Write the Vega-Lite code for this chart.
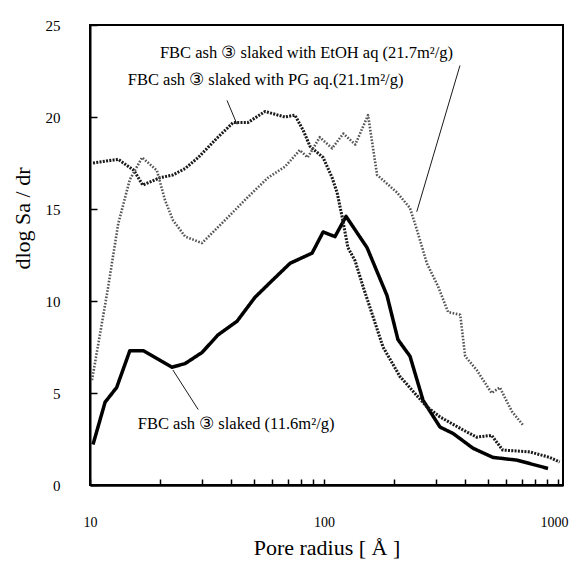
{
  "$schema": "https://vega.github.io/schema/vega-lite/v6.json",
  "width": 473,
  "height": 460,
  "autosize": {"type": "none"},
  "padding": {"left": 90, "top": 25, "right": 8, "bottom": 85},
  "background": "white",
  "config": {
    "font": "Liberation Serif",
    "view": {"stroke": "black", "strokeWidth": 2},
    "axis": {"grid": false, "ticks": true, "labelColor": "black", "titleColor": "black", "labelFont": "Liberation Serif", "titleFont": "Liberation Serif", "titleFontWeight": "normal"}
  },
  "datasets": {
    "curves": [
      {"series": "slaked", "r": 10.3, "v": 2.2},
      {"series": "slaked", "r": 11.6, "v": 4.5},
      {"series": "slaked", "r": 13.0, "v": 5.3},
      {"series": "slaked", "r": 14.8, "v": 7.3},
      {"series": "slaked", "r": 16.9, "v": 7.3},
      {"series": "slaked", "r": 22.4, "v": 6.4},
      {"series": "slaked", "r": 25.5, "v": 6.6},
      {"series": "slaked", "r": 30.1, "v": 7.2},
      {"series": "slaked", "r": 35.2, "v": 8.15},
      {"series": "slaked", "r": 42.5, "v": 8.9},
      {"series": "slaked", "r": 50.7, "v": 10.2},
      {"series": "slaked", "r": 58.8, "v": 11.0},
      {"series": "slaked", "r": 71.6, "v": 12.05},
      {"series": "slaked", "r": 88.9, "v": 12.6},
      {"series": "slaked", "r": 99.1, "v": 13.75},
      {"series": "slaked", "r": 111.4, "v": 13.5},
      {"series": "slaked", "r": 124.2, "v": 14.6},
      {"series": "slaked", "r": 152.7, "v": 12.9},
      {"series": "slaked", "r": 185.8, "v": 10.3},
      {"series": "slaked", "r": 207, "v": 7.9},
      {"series": "slaked", "r": 233, "v": 7.0},
      {"series": "slaked", "r": 265, "v": 4.6},
      {"series": "slaked", "r": 313, "v": 3.15},
      {"series": "slaked", "r": 356, "v": 2.8},
      {"series": "slaked", "r": 433, "v": 2.0},
      {"series": "slaked", "r": 527, "v": 1.5},
      {"series": "slaked", "r": 668, "v": 1.35},
      {"series": "slaked", "r": 906, "v": 0.9},
      {"series": "PG", "r": 10.3, "v": 17.5},
      {"series": "PG", "r": 13.2, "v": 17.7},
      {"series": "PG", "r": 15.4, "v": 17.1},
      {"series": "PG", "r": 16.8, "v": 16.3},
      {"series": "PG", "r": 19.9, "v": 16.7},
      {"series": "PG", "r": 22.6, "v": 16.85},
      {"series": "PG", "r": 25.5, "v": 17.2},
      {"series": "PG", "r": 29.0, "v": 17.8},
      {"series": "PG", "r": 35.2, "v": 18.9},
      {"series": "PG", "r": 40.9, "v": 19.7},
      {"series": "PG", "r": 47.3, "v": 19.7},
      {"series": "PG", "r": 56.0, "v": 20.3},
      {"series": "PG", "r": 68.1, "v": 20.0},
      {"series": "PG", "r": 75.1, "v": 20.1},
      {"series": "PG", "r": 81.3, "v": 19.3},
      {"series": "PG", "r": 87.2, "v": 18.4},
      {"series": "PG", "r": 99.1, "v": 17.8},
      {"series": "PG", "r": 108.3, "v": 16.7},
      {"series": "PG", "r": 113.7, "v": 15.9},
      {"series": "PG", "r": 119.4, "v": 14.6},
      {"series": "PG", "r": 126.5, "v": 12.9},
      {"series": "PG", "r": 135.6, "v": 12.2},
      {"series": "PG", "r": 146.7, "v": 10.8},
      {"series": "PG", "r": 178.7, "v": 7.5},
      {"series": "PG", "r": 211, "v": 5.9},
      {"series": "PG", "r": 275, "v": 4.25},
      {"series": "PG", "r": 313, "v": 3.7},
      {"series": "PG", "r": 392, "v": 3.0},
      {"series": "PG", "r": 449, "v": 2.6},
      {"series": "PG", "r": 520, "v": 2.7},
      {"series": "PG", "r": 580, "v": 1.9},
      {"series": "PG", "r": 757, "v": 1.8},
      {"series": "PG", "r": 921, "v": 1.5},
      {"series": "PG", "r": 1016, "v": 1.25},
      {"series": "EtOH", "r": 10.2, "v": 5.7},
      {"series": "EtOH", "r": 11.9, "v": 10.6},
      {"series": "EtOH", "r": 13.2, "v": 14.2},
      {"series": "EtOH", "r": 14.8, "v": 16.6},
      {"series": "EtOH", "r": 16.7, "v": 17.8},
      {"series": "EtOH", "r": 19.3, "v": 17.1},
      {"series": "EtOH", "r": 20.9, "v": 15.5},
      {"series": "EtOH", "r": 22.6, "v": 14.4},
      {"series": "EtOH", "r": 25.5, "v": 13.5},
      {"series": "EtOH", "r": 30.1, "v": 13.15},
      {"series": "EtOH", "r": 37.8, "v": 14.4},
      {"series": "EtOH", "r": 47.3, "v": 15.65},
      {"series": "EtOH", "r": 57.6, "v": 16.7},
      {"series": "EtOH", "r": 68.1, "v": 17.3},
      {"series": "EtOH", "r": 78.8, "v": 18.2},
      {"series": "EtOH", "r": 85.1, "v": 17.8},
      {"series": "EtOH", "r": 95.9, "v": 18.9},
      {"series": "EtOH", "r": 108.3, "v": 18.3},
      {"series": "EtOH", "r": 120.9, "v": 19.1},
      {"series": "EtOH", "r": 136.0, "v": 18.5},
      {"series": "EtOH", "r": 154.2, "v": 20.1},
      {"series": "EtOH", "r": 168.6, "v": 16.85},
      {"series": "EtOH", "r": 205, "v": 15.9},
      {"series": "EtOH", "r": 233, "v": 15.05},
      {"series": "EtOH", "r": 249, "v": 13.9},
      {"series": "EtOH", "r": 275, "v": 12.05},
      {"series": "EtOH", "r": 307, "v": 10.8},
      {"series": "EtOH", "r": 339, "v": 9.4},
      {"series": "EtOH", "r": 382, "v": 9.25},
      {"series": "EtOH", "r": 401, "v": 7.0},
      {"series": "EtOH", "r": 449, "v": 6.25},
      {"series": "EtOH", "r": 520, "v": 5.0},
      {"series": "EtOH", "r": 564, "v": 5.3},
      {"series": "EtOH", "r": 635, "v": 4.0},
      {"series": "EtOH", "r": 709, "v": 3.25}
    ],
    "leaders": [
      {"r": 38.5, "v": 20.9, "r2": 42.5, "v2": 19.6},
      {"r": 381, "v": 22.8, "r2": 249, "v2": 14.85},
      {"r": 22.6, "v": 6.25, "r2": 29.0, "v2": 4.1}
    ],
    "labels": [
      {"r": 19.9, "v": 23.5, "text": "FBC ash  ③ slaked with EtOH aq (21.7m²/g)"},
      {"r": 14.5, "v": 22.0, "text": "FBC ash  ③ slaked  with PG aq.(21.1m²/g)"},
      {"r": 16.0, "v": 3.3, "text": "FBC ash  ③ slaked  (11.6m²/g)"}
    ]
  },
  "encoding": {
    "x": {
      "field": "r", "type": "quantitative",
      "scale": {"type": "log", "domain": [10, 1050], "nice": false},
      "axis": {
        "title": "Pore radius [ Å ]",
        "titleFontSize": 22,
        "titlePadding": 8,
        "tickCount": 12,
        "labelExpr": "indexof([10,100,1000], datum.value) >= 0 ? format(datum.value, 'd') : ''",
        "labelFontSize": 14,
        "labelOverlap": false,
        "labelBound": false,
        "labelFlush": false,
        "labelOffset": {"condition": {"test": "datum.value == 1000", "value": -4}, "value": 0},
        "domainColor": "black",
        "domainWidth": 2.5,
        "ticks": true,
        "tickColor": "black",
        "tickWidth": 1.5,
        "tickSize": -6,
        "labelPadding": 36
      }
    },
    "y": {
      "field": "v", "type": "quantitative",
      "scale": {"domain": [0, 25], "nice": false},
      "axis": {
        "title": "dlog Sa / dr",
        "titleFontSize": 22,
        "titleX": -68,
        "titleY": 193,
        "titleAngle": -90,
        "titleAlign": "center",
        "titleBaseline": "middle",
        "tickCount": 5,
        "labelFontSize": 15,
        "domainColor": "black",
        "domainWidth": 2,
        "ticks": true,
        "tickColor": "black",
        "tickWidth": 1.5,
        "tickSize": -7,
        "labelPadding": 37
      }
    }
  },
  "layer": [
    {
      "data": {"name": "curves"},
      "mark": {"type": "line", "strokeCap": "butt", "strokeJoin": "round"},
      "encoding": {
        "color": {
          "field": "series", "type": "nominal",
          "scale": {"domain": ["slaked", "PG", "EtOH"], "range": ["#000000", "#1a1a1a", "#555555"]},
          "legend": null
        },
        "strokeWidth": {
          "field": "series", "type": "nominal",
          "scale": {"domain": ["slaked", "PG", "EtOH"], "range": [3.5, 2.6, 2.2]},
          "legend": null
        },
        "strokeDash": {
          "field": "series", "type": "nominal",
          "scale": {"domain": ["slaked", "PG", "EtOH"], "range": [[1, 0], [2, 1.3], [1.6, 1.6]]},
          "legend": null
        }
      }
    },
    {
      "data": {"name": "leaders"},
      "mark": {"type": "rule", "color": "black", "strokeWidth": 0.9},
      "encoding": {
        "x2": {"field": "r2"},
        "y2": {"field": "v2"}
      }
    },
    {
      "data": {"name": "labels"},
      "mark": {"type": "text", "align": "left", "baseline": "middle", "font": "Liberation Serif", "fontSize": 16.5, "color": "black"},
      "encoding": {
        "text": {"field": "text"}
      }
    }
  ]
}
